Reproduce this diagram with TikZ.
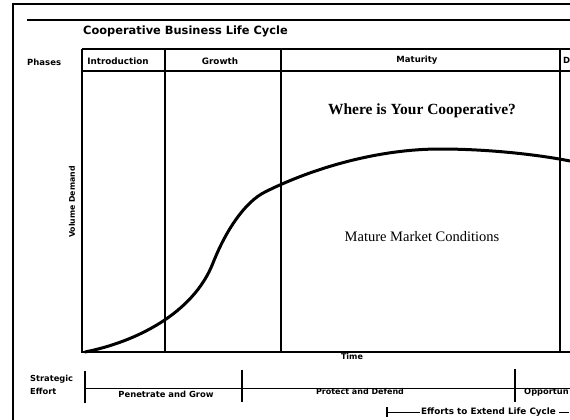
\documentclass[tikz,border=0pt]{standalone}
\usepackage{fontspec}
\setsansfont{DejaVu Sans}
\setmainfont{Liberation Serif}
\begin{document}
\begin{tikzpicture}[x=1pt,y=-1pt,
  outerline/.style={line width=2pt},
  gridline/.style={line width=1.1pt},
  curveline/.style={line width=3pt, line cap=round},
  tickline/.style={line width=1.4pt},
  lab/.style={font=\sffamily\bfseries\fontsize{8.5}{10}\selectfont, inner sep=0pt},
  ser/.style={font=\rmfamily\fontsize{14.5}{15}\selectfont, inner sep=0pt}]
\fill[white] (0,0) rectangle (570,420);
\useasboundingbox (0,0) rectangle (570,420);
% outer frame
\draw[outerline] (13,420) -- (13,4) -- (570,4);
\draw[line width=2.2pt] (27,20) -- (570,20);
\node[anchor=west, font=\sffamily\bfseries\fontsize{11.4}{12}\selectfont, inner sep=0pt] (title) at (83,31) {Cooperative Business Life Cycle};
% phases header
\node[lab, anchor=west] (phases) at (27,62) {Phases};
\draw[gridline] (82,49) -- (570,49);
\draw[gridline] (82,71) -- (570,71);
\draw[gridline] (82,49) -- (82,352) -- (570,352);
\draw[gridline] (165,49) -- (165,352);
\draw[gridline] (281,49) -- (281,352);
\draw[gridline] (560,49) -- (560,352);
\node[lab, font=\sffamily\bfseries\fontsize{8.8}{10}\selectfont] (intro) at (118,61) {Introduction};
\node[lab, font=\sffamily\bfseries\fontsize{8.8}{10}\selectfont] (growth) at (220,61) {Growth};
\node[lab] (mat) at (417,60) {Maturity};
\node[lab, anchor=west] (dec) at (563,60) {D};
% axes labels
\node[lab, rotate=90, font=\sffamily\bfseries\fontsize{7.8}{9}\selectfont] (vol) at (72,202) {Volume Demand};
\node[lab, font=\sffamily\bfseries\fontsize{8}{10}\selectfont] (time) at (352,357) {Time};
% curve
\draw[curveline] (85,352) .. controls (135,342) and (193,314) .. (213,263)
   .. controls (226,230) and (245,202) .. (265,192)
   .. controls (315,167) and (380,149) .. (440,149)
   .. controls (490,149) and (540,155) .. (570,161);
% texts in chart
\node[ser, font=\rmfamily\bfseries\fontsize{15.5}{16}\selectfont] (where) at (422,111) {Where is Your Cooperative?};
\node[ser] (mature) at (422,237) {Mature Market Conditions};
% strategic effort
\node[lab, anchor=west, align=left, font=\sffamily\bfseries\fontsize{8.3}{12.5}\selectfont] (strat) at (30,385) {Strategic\\Effort};
\draw[line width=0.9pt] (85,388) -- (570,388);
\draw[tickline] (85,371) -- (85,403);
\draw[tickline] (242,370) -- (242,402);
\draw[tickline] (515,369) -- (515,402);
\node[lab, font=\sffamily\bfseries\fontsize{8.4}{10}\selectfont] (pen) at (166,394) {Penetrate and Grow};
\node[lab, font=\sffamily\bfseries\fontsize{8}{10}\selectfont] (prot) at (360,392) {Protect and Defend};
\node[lab, anchor=west, font=\sffamily\bfseries\fontsize{8.3}{10}\selectfont] (opp) at (524,392) {Opportun};
% efforts to extend
\node[lab, anchor=west, font=\sffamily\bfseries\fontsize{8.8}{10}\selectfont] (eff) at (421,412) {Efforts to Extend Life Cycle};
\draw[tickline] (387,407) -- (387,417);
\draw[line width=0.7pt] (387,412) -- ([xshift=-1pt]eff.west);
\draw[line width=0.7pt] ([xshift=3pt]eff.east) -- (569,412);
\end{tikzpicture}
\end{document}
